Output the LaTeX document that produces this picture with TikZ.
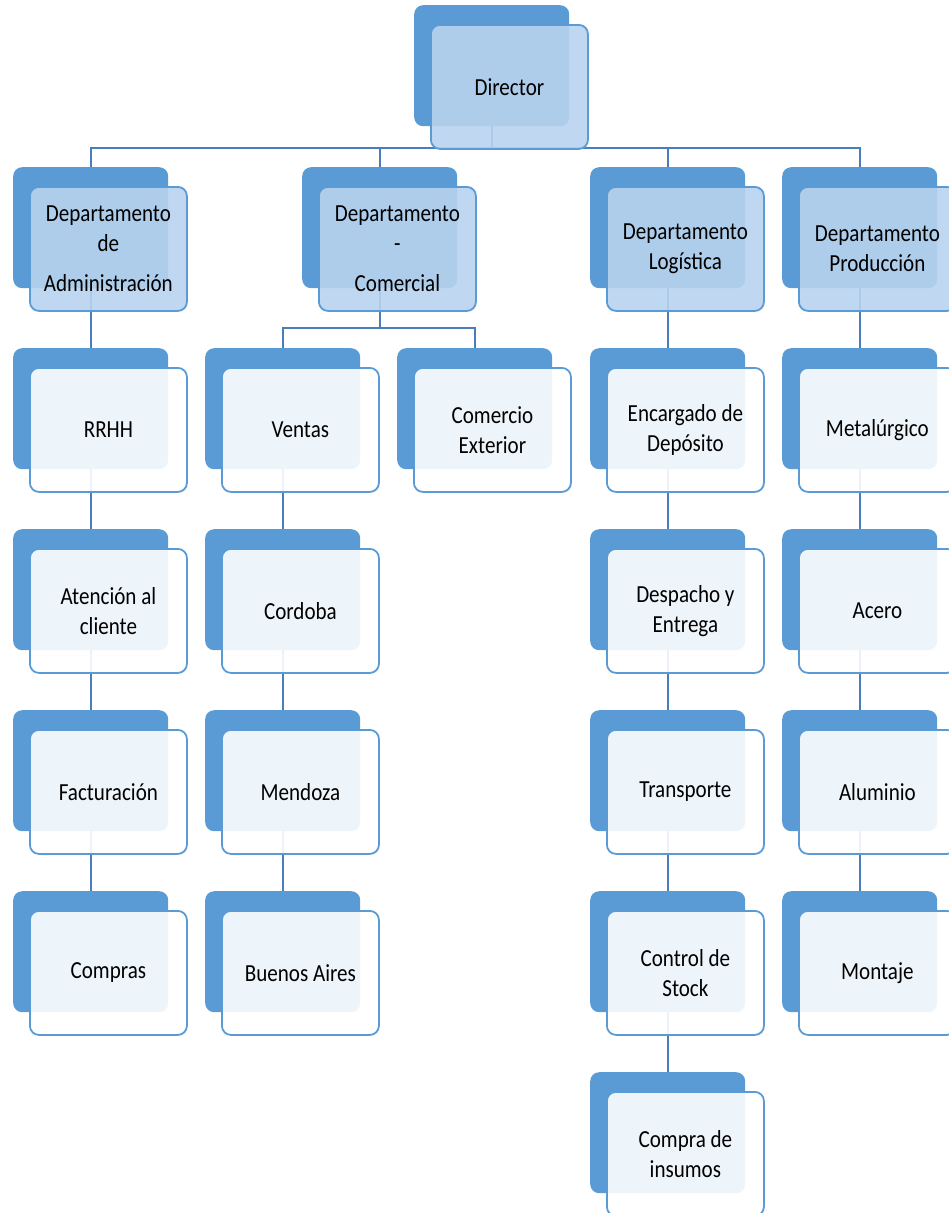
\documentclass[tikz,border=0pt]{standalone}
\usepackage{fontspec}
\setmainfont{Carlito}[FakeStretch=0.86]
\definecolor{boxblue}{HTML}{5B9BD5}
\definecolor{paleblue}{HTML}{B8D3EE}
\definecolor{linkblue}{HTML}{4A7EBB}
\pgfdeclarelayer{background}
\pgfsetlayers{background,main}
\tikzset{
	% Two boxes per unit: a solid one behind and a lighter one on top
	back node/.style={rectangle, rounded corners=9pt, fill=boxblue, anchor=north west,
		minimum width=155pt, minimum height=121pt, inner sep=0pt},
	head node/.style={rectangle, rounded corners=9pt, draw=boxblue, line width=1.8pt,
		fill=paleblue, fill opacity=0.9, text opacity=1, anchor=north west,
		minimum width=157pt, minimum height=124pt, align=center, inner sep=0pt},
	unit node/.style={head node, fill=white},
	link/.style={draw=linkblue, line width=2pt}
}

\begin{document}
\begin{tikzpicture}[x=1pt, y=-1pt, font=\fontsize{24.5}{30}\selectfont]
  \useasboundingbox (0,0) rectangle (949,1213);

  \node(dirb) at (414, 5) [back node]{};
  \node(dir) at (430, 24) [head node]{Director};

  \node(admb) at (13, 167) [back node]{};
  \node(adm) at (29, 186) [head node]{Departamento\\de\\[10pt]Administración};
  \node(comb) at (302, 167) [back node]{};
  \node(com) at (318, 186) [head node]{Departamento\\-\\[10pt]Comercial};
  \node(logb) at (590, 167) [back node]{};
  \node(log) at (606, 186) [head node]{Departamento\\Logística};
  \node(prodb) at (782, 167) [back node]{};
  \node(prod) at (798, 186) [head node]{Departamento\\Producción};

  \node(rrhhb) at (13, 348) [back node]{};
  \node(rrhh) at (29, 367) [unit node]{RRHH};
  \node(atenb) at (13, 529) [back node]{};
  \node(aten) at (29, 548) [unit node]{Atención al\\cliente};
  \node(factb) at (13, 710) [back node]{};
  \node(fact) at (29, 729) [unit node]{Facturación};
  \node(comprasb) at (13, 891) [back node]{};
  \node(compras) at (29, 910) [unit node]{Compras};

  \node(ventasb) at (205, 348) [back node]{};
  \node(ventas) at (221, 367) [unit node]{Ventas};
  \node(cextb) at (397, 348) [back node]{};
  \node(cext) at (413, 367) [unit node]{Comercio\\Exterior};
  \node(cbab) at (205, 529) [back node]{};
  \node(cba) at (221, 548) [unit node]{Cordoba};
  \node(mzab) at (205, 710) [back node]{};
  \node(mza) at (221, 729) [unit node]{Mendoza};
  \node(bsasb) at (205, 891) [back node]{};
  \node(bsas) at (221, 910) [unit node]{Buenos Aires};

  \node(encdb) at (590, 348) [back node]{};
  \node(encd) at (606, 367) [unit node]{Encargado de\\Depósito};
  \node(despb) at (590, 529) [back node]{};
  \node(desp) at (606, 548) [unit node]{Despacho y\\Entrega};
  \node(transpb) at (590, 710) [back node]{};
  \node(transp) at (606, 729) [unit node]{Transporte};
  \node(stockb) at (590, 891) [back node]{};
  \node(stock) at (606, 910) [unit node]{Control de\\Stock};
  \node(insumosb) at (590, 1072) [back node]{};
  \node(insumos) at (606, 1091) [unit node]{Compra de\\insumos};

  \node(metalb) at (782, 348) [back node]{};
  \node(metal) at (798, 367) [unit node]{Metalúrgico};
  \node(acerob) at (782, 529) [back node]{};
  \node(acero) at (798, 548) [unit node]{Acero};
  \node(alumb) at (782, 710) [back node]{};
  \node(alum) at (798, 729) [unit node]{Aluminio};
  \node(montajeb) at (782, 891) [back node]{};
  \node(montaje) at (798, 910) [unit node]{Montaje};

  %% connectors go under the boxes
  \begin{pgfonlayer}{background}
    \coordinate(bus) at (0, 148);
    \coordinate(subbus) at (0, 328);
    \path[link] (dirb.south) -- (dirb.south |- bus) -| (admb.north);
    \path[link] (dirb.south |- bus) -| (comb.north);
    \path[link] (dirb.south |- bus) -| (logb.north);
    \path[link] (dirb.south |- bus) -| (prodb.north);

    \path[link] (admb.south) -- (rrhhb.north);
    \path[link] (rrhhb.south) -- (atenb.north);
    \path[link] (atenb.south) -- (factb.north);
    \path[link] (factb.south) -- (comprasb.north);

    \path[link] (comb.south) -- (comb.south |- subbus) -| (ventasb.north);
    \path[link] (comb.south |- subbus) -| (cextb.north);
    \path[link] (ventasb.south) -- (cbab.north);
    \path[link] (cbab.south) -- (mzab.north);
    \path[link] (mzab.south) -- (bsasb.north);

    \path[link] (logb.south) -- (encdb.north);
    \path[link] (encdb.south) -- (despb.north);
    \path[link] (despb.south) -- (transpb.north);
    \path[link] (transpb.south) -- (stockb.north);
    \path[link] (stockb.south) -- (insumosb.north);

    \path[link] (prodb.south) -- (metalb.north);
    \path[link] (metalb.south) -- (acerob.north);
    \path[link] (acerob.south) -- (alumb.north);
    \path[link] (alumb.south) -- (montajeb.north);
  \end{pgfonlayer}

\end{tikzpicture}
\end{document}
